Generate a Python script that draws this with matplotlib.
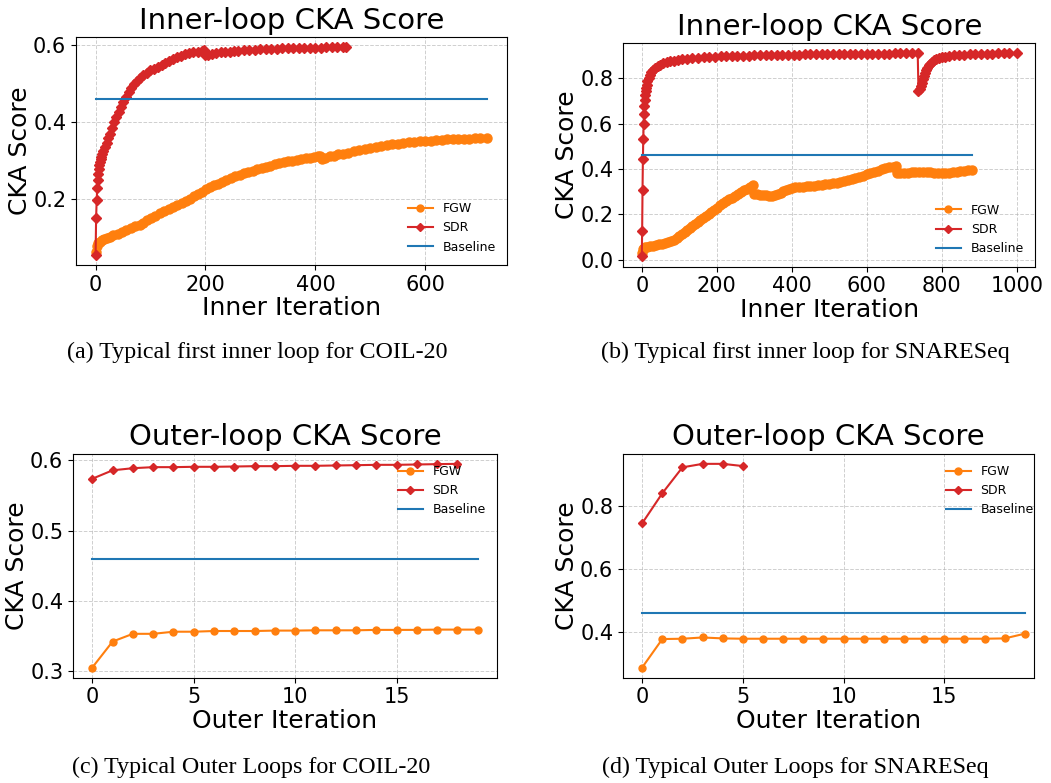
"""
    Inner / outer loop CKA score curves for COIL-20 and SNARESeq
"""

import matplotlib
matplotlib.use('Agg')
import matplotlib.pyplot as plt

BASELINE = 0.46

# (a) COIL-20, first inner loop
coil_sdr_inner_iter = [0, 1, 2, 3, 4, 5, 6, 7, 8, 9, 10, 12, 14, 17, 20, 23, 26, 30, 34, 38, 42, 46, 50, 55, 60,
                       65, 70, 75, 81, 87, 93, 99, 106, 113, 120, 127, 134, 141, 148, 155, 162, 170, 178, 186, 193,
                       197, 200, 205, 212, 220, 228, 236, 244, 252, 260, 270, 280, 290, 300, 310, 320, 330, 340,
                       350, 360, 370, 380, 390, 400, 410, 420, 430, 440, 450, 456]
coil_sdr_inner = [0.056, 0.152, 0.197, 0.229, 0.249, 0.266, 0.277, 0.288, 0.296, 0.303, 0.309, 0.316, 0.326, 0.335,
                  0.345, 0.358, 0.370, 0.384, 0.399, 0.413, 0.426, 0.440, 0.452, 0.465, 0.478, 0.489, 0.499, 0.507,
                  0.515, 0.522, 0.528, 0.534, 0.539, 0.544, 0.549, 0.554, 0.559, 0.564, 0.569, 0.572, 0.576, 0.579,
                  0.581, 0.583, 0.585, 0.586, 0.575, 0.575, 0.577, 0.579, 0.581, 0.582, 0.583, 0.584, 0.585, 0.586,
                  0.587, 0.588, 0.589, 0.589, 0.590, 0.590, 0.591, 0.591, 0.592, 0.592, 0.592, 0.593, 0.593, 0.593,
                  0.594, 0.594, 0.594, 0.594, 0.594]
coil_fgw_inner_iter = [0, 2, 5, 8, 12, 16, 20, 26, 32, 40, 48, 56, 64, 72, 80, 87, 94, 101, 109, 117, 125, 133, 141,
                       149, 157, 165, 172, 180, 187, 194, 201, 208, 215, 222, 230, 238, 246, 254, 262, 270, 278, 286,
                       294, 302, 310, 318, 326, 334, 342, 350, 358, 366, 374, 382, 390, 398, 405, 409, 412, 418, 426,
                       434, 442, 450, 460, 470, 480, 490, 500, 510, 520, 530, 540, 550, 560, 570, 580, 590, 600, 610,
                       620, 630, 640, 650, 660, 670, 680, 690, 700, 713]
coil_fgw_inner = [0.062, 0.078, 0.085, 0.090, 0.094, 0.097, 0.099, 0.102, 0.106, 0.110, 0.115, 0.120, 0.124, 0.129,
                  0.134, 0.139, 0.145, 0.150, 0.157, 0.164, 0.170, 0.175, 0.180, 0.185, 0.190, 0.196, 0.201, 0.207,
                  0.213, 0.219, 0.225, 0.231, 0.236, 0.240, 0.245, 0.249, 0.254, 0.259, 0.263, 0.267, 0.270, 0.274,
                  0.277, 0.280, 0.283, 0.287, 0.290, 0.293, 0.296, 0.298, 0.300, 0.302, 0.304, 0.306, 0.308, 0.310,
                  0.312, 0.313, 0.305, 0.308, 0.311, 0.313, 0.316, 0.318, 0.321, 0.324, 0.327, 0.330, 0.333, 0.336,
                  0.338, 0.340, 0.342, 0.344, 0.346, 0.348, 0.349, 0.350, 0.351, 0.352, 0.353, 0.354, 0.355, 0.355,
                  0.356, 0.357, 0.357, 0.358, 0.358, 0.359]

# (b) SNARESeq, first inner loop
snare_sdr_inner_iter = [0, 1, 2, 3, 4, 5, 6, 7, 8, 9, 10, 11, 13, 15, 18, 21, 25, 30, 36, 42, 49, 57, 66, 75, 85, 96,
                        108, 120, 135, 150, 165, 180, 195, 210, 225, 240, 255, 270, 285, 300, 315, 330, 345, 360, 375,
                        390, 405, 420, 435, 450, 465, 480, 495, 510, 525, 540, 555, 570, 585, 600, 615, 630, 645, 660,
                        675, 690, 705, 720, 736, 738, 741, 744, 747, 750, 753, 756, 759, 762, 766, 770, 775, 780, 786,
                        793, 800, 810, 820, 832, 845, 860, 875, 890, 905, 920, 935, 950, 965, 980, 1000]
snare_sdr_inner = [0.015, 0.128, 0.308, 0.445, 0.532, 0.596, 0.643, 0.678, 0.705, 0.727, 0.742, 0.756, 0.772, 0.787,
                   0.803, 0.815, 0.827, 0.837, 0.846, 0.853, 0.859, 0.865, 0.870, 0.874, 0.877, 0.880, 0.883, 0.886,
                   0.888, 0.890, 0.892, 0.893, 0.894, 0.896, 0.897, 0.897, 0.898, 0.899, 0.899, 0.900, 0.901, 0.901,
                   0.902, 0.902, 0.903, 0.903, 0.904, 0.904, 0.905, 0.905, 0.905, 0.906, 0.906, 0.906, 0.906, 0.907,
                   0.907, 0.907, 0.907, 0.908, 0.908, 0.908, 0.908, 0.908, 0.909, 0.909, 0.909, 0.909, 0.909, 0.745,
                   0.752, 0.765, 0.780, 0.795, 0.810, 0.824, 0.836, 0.846, 0.856, 0.864, 0.872, 0.878, 0.884, 0.889,
                   0.892, 0.895, 0.898, 0.900, 0.902, 0.904, 0.905, 0.906, 0.907, 0.908, 0.908, 0.909, 0.909, 0.910,
                   0.910]
snare_fgw_inner_iter = [0, 2, 5, 9, 15, 22, 30, 38, 46, 54, 62, 70, 78, 86, 93, 100, 107, 114, 121, 128, 135, 142, 149,
                        156, 164, 171, 178, 185, 192, 200, 209, 217, 225, 233, 241, 249, 257, 265, 273, 281, 289, 297,
                        300, 308, 316, 324, 332, 340, 347, 355, 363, 371, 378, 386, 394, 402, 410, 420, 430, 440, 450,
                        460, 470, 480, 490, 500, 510, 520, 530, 540, 550, 560, 570, 580, 590, 600, 610, 620, 630, 640,
                        650, 660, 670, 677, 680, 690, 700, 710, 720, 730, 740, 750, 760, 770, 780, 790, 800, 810, 820,
                        830, 840, 850, 860, 870, 880]
snare_fgw_inner = [0.030, 0.048, 0.053, 0.056, 0.058, 0.060, 0.062, 0.065, 0.068, 0.071, 0.075, 0.079, 0.084, 0.089,
                   0.095, 0.103, 0.112, 0.122, 0.132, 0.141, 0.150, 0.159, 0.167, 0.175, 0.184, 0.193, 0.202, 0.211,
                   0.220, 0.230, 0.242, 0.250, 0.258, 0.266, 0.274, 0.282, 0.290, 0.298, 0.306, 0.314, 0.321, 0.330,
                   0.290, 0.288, 0.287, 0.286, 0.284, 0.282, 0.281, 0.284, 0.290, 0.296, 0.301, 0.307, 0.313, 0.318,
                   0.320, 0.321, 0.322, 0.323, 0.324, 0.326, 0.328, 0.330, 0.332, 0.335, 0.337, 0.340, 0.344, 0.348,
                   0.352, 0.356, 0.361, 0.366, 0.371, 0.376, 0.382, 0.388, 0.393, 0.398, 0.403, 0.407, 0.410, 0.413,
                   0.383, 0.382, 0.383, 0.384, 0.385, 0.386, 0.387, 0.387, 0.387, 0.386, 0.384, 0.383, 0.382, 0.382,
                   0.383, 0.385, 0.388, 0.391, 0.393, 0.395, 0.396]

# (c) COIL-20, outer loops
coil_sdr_outer = [0.574, 0.586, 0.589, 0.5905, 0.5905, 0.591, 0.591, 0.5914, 0.5919, 0.5919, 0.5924, 0.5924,
                  0.5929, 0.5933, 0.5938, 0.5938, 0.5943, 0.5948, 0.5952]
coil_fgw_outer = [0.305, 0.342, 0.353, 0.353, 0.356, 0.356, 0.357, 0.357, 0.357, 0.3576, 0.3576, 0.358, 0.358,
                  0.358, 0.3586, 0.3586, 0.3586, 0.359, 0.359, 0.359]

# (d) SNARESeq, outer loops
snare_sdr_outer = [0.745, 0.840, 0.922, 0.933, 0.933, 0.926]
snare_fgw_outer = [0.289, 0.379, 0.380, 0.384, 0.381, 0.380, 0.380, 0.380, 0.380, 0.380, 0.380, 0.380, 0.380,
                   0.380, 0.380, 0.380, 0.380, 0.380, 0.381, 0.396]

captions = ['(a) Typical first inner loop for COIL-20',
            '(b) Typical first inner loop for SNARESeq',
            '(c) Typical Outer Loops for COIL-20',
            '(d) Typical Outer Loops for SNARESeq']


def draw_panel(ax, fgw_x, fgw, sdr_x, sdr, title, xlabel, legend_loc, ms_dot=5, ms_diamond=4.5, legend_anchor=None):
    ax.plot(fgw_x, fgw, color='tab:orange', marker='o', markersize=ms_dot, linewidth=1.5, label='FGW')
    ax.plot(sdr_x, sdr, color='tab:red', marker='D', markersize=ms_diamond, linewidth=1.5, label='SDR')
    ax.plot(fgw_x, [BASELINE] * len(fgw_x), color='tab:blue', linewidth=1.5, label='Baseline')
    ax.set_title(title, fontsize=21)
    ax.set_xlabel(xlabel, fontsize=18, labelpad=1)
    ax.set_ylabel('CKA Score', fontsize=18, labelpad=0.5)
    ax.tick_params(axis='both', labelsize=15)
    ax.grid(True, linestyle='--', linewidth=0.7, alpha=0.6)
    leg = ax.legend(loc=legend_loc, bbox_to_anchor=legend_anchor, fontsize=9, frameon=False)
    for handle in leg.legend_handles:
        handle.set_markersize(5 if handle.get_marker() == 'o' else 4.5)


fig = plt.figure(figsize=(10.51, 7.83), dpi=100)
ax_a = fig.add_axes([0.0723, 0.6616, 0.4101, 0.2912])
ax_b = fig.add_axes([0.5928, 0.6596, 0.3924, 0.2854])
ax_c = fig.add_axes([0.0695, 0.1345, 0.4034, 0.2861])
ax_d = fig.add_axes([0.5928, 0.1345, 0.3910, 0.2861])

draw_panel(ax_a, coil_fgw_inner_iter, coil_fgw_inner, coil_sdr_inner_iter, coil_sdr_inner,
           'Inner-loop CKA Score', 'Inner Iteration', 'lower right', ms_dot=6.5, ms_diamond=5.5)
draw_panel(ax_b, snare_fgw_inner_iter, snare_fgw_inner, snare_sdr_inner_iter, snare_sdr_inner,
           'Inner-loop CKA Score', 'Inner Iteration', 'lower right', ms_dot=6.5, ms_diamond=5.5)
draw_panel(ax_c, list(range(len(coil_fgw_outer))), coil_fgw_outer, list(range(len(coil_sdr_outer))),
           coil_sdr_outer, 'Outer-loop CKA Score', 'Outer Iteration', 'upper right')
draw_panel(ax_d, list(range(len(snare_fgw_outer))), snare_fgw_outer, list(range(len(snare_sdr_outer))),
           snare_sdr_outer, 'Outer-loop CKA Score', 'Outer Iteration', 'upper right',
           legend_anchor=(1.027, 1.0))
ax_b.set_xticks([0, 200, 400, 600, 800, 1000])
ax_d.set_xlim(-0.95, 19.45)

caption_pos = [(257 / 1051, 1 - 352 / 783), (805 / 1051, 1 - 352 / 783),
               (251 / 1051, 1 - 767 / 783), (795 / 1051, 1 - 767 / 783)]
for (cx, cy), text in zip(caption_pos, captions):
    fig.text(cx, cy, text, ha='center', va='center', fontsize=17.3, family='Liberation Serif')

fig.savefig('out.png', dpi=100)
